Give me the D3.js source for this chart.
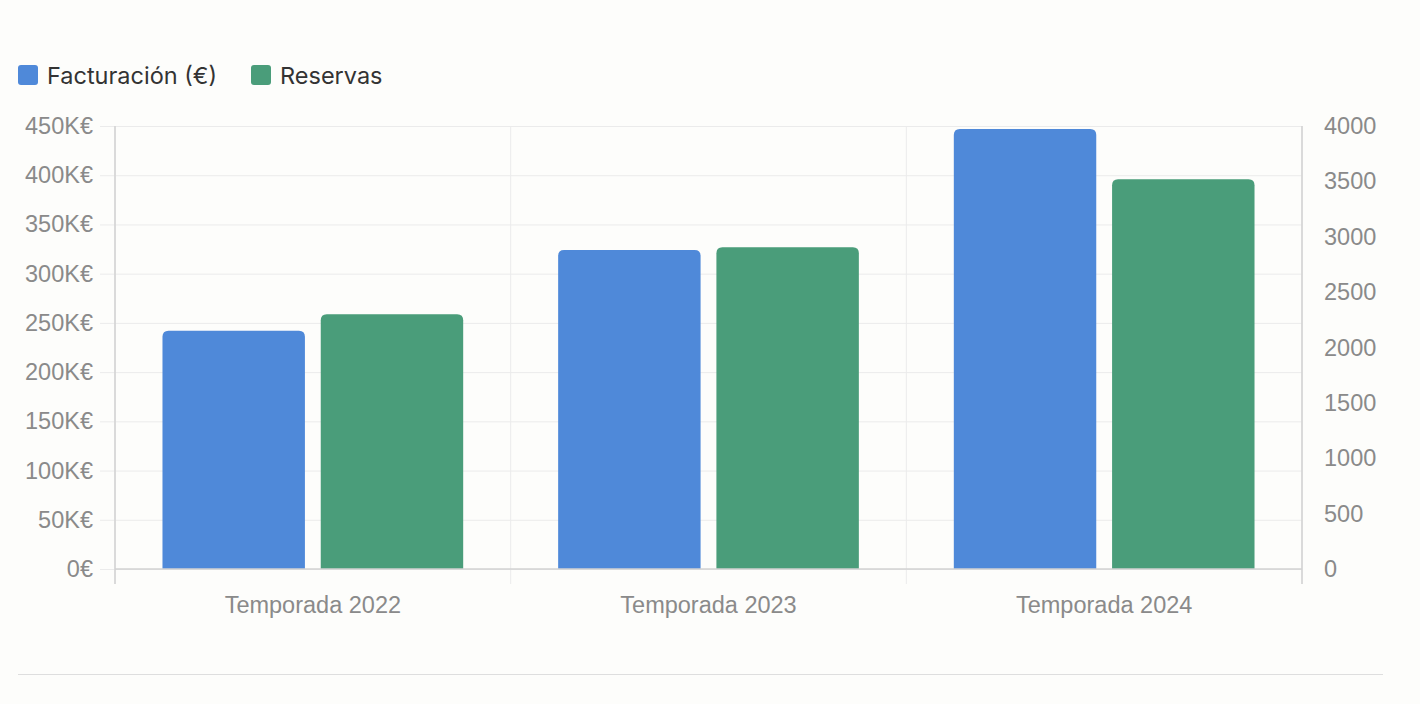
<!DOCTYPE html>
<html>
<head>
<meta charset="utf-8">
<script src="https://cdn.jsdelivr.net/npm/d3@7"></script>
<style>
  html, body { margin: 0; padding: 0; background: #fdfdfb; }
  svg { display: block; }
</style>
</head>
<body>
<div id="chart"></div>
<script>
// data
const seasons = ["Temporada 2022", "Temporada 2023", "Temporada 2024"];
const revenue = [242000, 324000, 447000];
const bookings = [2300, 2905, 3520];
const seriesNames = ["Facturación (€)", "Reservas"];
const seriesColors = ["#4f89d9", "#4a9d7a"];
const revenueTicks = [0, 50000, 100000, 150000, 200000, 250000, 300000, 350000, 400000, 450000];
const bookingTicks = [0, 500, 1000, 1500, 2000, 2500, 3000, 3500, 4000];

const width = 1420, height = 704;
const margin = { top: 126, right: 118, bottom: 135, left: 115 };
const innerW = width - margin.left - margin.right;
const innerH = height - margin.top - margin.bottom;

const svg = d3.select("#chart").append("svg")
  .attr("width", width).attr("height", height);

const tickFont = "'Liberation Sans', Arial, sans-serif";
const tickSize = "23.5px";
const tickColor = "#8a8a8a";
const gridColor = "#ebebeb";
const axisColor = "#d2d2d2";

const g = svg.append("g").attr("transform", `translate(${margin.left},${margin.top})`);

const x = d3.scaleBand().domain(seasons).range([0, innerW]);
const yLeft = d3.scaleLinear().domain([0, 450000]).range([innerH, 0]);
const yRight = d3.scaleLinear().domain([0, 4000]).range([innerH, 0]);

// horizontal grid + left ticks
const leftAxis = d3.axisLeft(yLeft).tickValues(revenueTicks)
  .tickSize(-innerW - 15).tickPadding(8)
  .tickFormat(d => d === 0 ? "0€" : (d / 1000) + "K€");
const gl = g.append("g").attr("transform", "translate(-15,0)").call(leftAxis);
gl.select(".domain").remove();
gl.selectAll(".tick line").attr("x1", 0).attr("x2", innerW + 15).attr("stroke", gridColor);
gl.selectAll(".tick text").attr("x", -7).attr("fill", tickColor)
  .style("font-family", tickFont).style("font-size", tickSize);

// vertical grid at category boundaries
const bounds = seasons.map(s => x(s)).concat([innerW]);
g.append("g").selectAll("line").data(bounds).join("line")
  .attr("x1", d => d).attr("x2", d => d)
  .attr("y1", 0).attr("y2", innerH + 15)
  .attr("stroke", gridColor);

// right axis labels
const rightAxis = d3.axisRight(yRight).tickValues(bookingTicks).tickSize(0).tickPadding(22)
  .tickFormat(d3.format("d"));
const gr = g.append("g").attr("transform", `translate(${innerW},0)`).call(rightAxis);
gr.select(".domain").remove();
gr.selectAll(".tick text").attr("fill", tickColor)
  .style("font-family", tickFont).style("font-size", tickSize);

// x labels
const bottomAxis = d3.axisBottom(x).tickSize(0).tickPadding(27);
const gb = g.append("g").attr("transform", `translate(0,${innerH})`).call(bottomAxis);
gb.select(".domain").remove();
gb.selectAll(".tick text").attr("fill", tickColor)
  .style("font-family", tickFont).style("font-size", tickSize);

// bars: 80% category width, 90% bar width
const catW = x.bandwidth() * 0.8;
const slotW = catW / 2;
const barW = slotW * 0.9;
const r = 6;
function barPath(x0, y0, w, h) {
  const rr = Math.min(r, h, w / 2);
  return `M${x0},${y0 + h}V${y0 + rr}Q${x0},${y0} ${x0 + rr},${y0}H${x0 + w - rr}Q${x0 + w},${y0} ${x0 + w},${y0 + rr}V${y0 + h}Z`;
}
const rows = seasons.map((s, i) => [
  { s, k: 0, y: yLeft(revenue[i]) },
  { s, k: 1, y: yRight(bookings[i]) }
]).flat();
g.append("g").selectAll("path").data(rows).join("path")
  .attr("d", d => {
    const x0 = x(d.s) + (x.bandwidth() - catW) / 2 + d.k * slotW + (slotW - barW) / 2;
    return barPath(x0, d.y, barW, innerH - d.y);
  })
  .attr("fill", d => seriesColors[d.k]);

// axis lines
g.append("line").attr("x1", 0).attr("x2", innerW).attr("y1", innerH).attr("y2", innerH)
  .attr("stroke", axisColor).attr("stroke-width", 1.5);
g.append("line").attr("x1", 0).attr("x2", 0).attr("y1", 0).attr("y2", innerH + 15)
  .attr("stroke", axisColor).attr("stroke-width", 1.5);
g.append("line").attr("x1", innerW).attr("x2", innerW).attr("y1", 0).attr("y2", innerH + 15)
  .attr("stroke", axisColor).attr("stroke-width", 1.5);

// legend
const legendFont = "Inter, 'Noto Sans', sans-serif";
const legend = svg.append("g").attr("transform", "translate(18,65)");
const legendX = [0, 233];
seriesNames.forEach((n, i) => {
  const lg = legend.append("g").attr("transform", `translate(${legendX[i]},0)`);
  lg.append("rect").attr("width", 20).attr("height", 20).attr("rx", 3).attr("fill", seriesColors[i]);
  lg.append("text").attr("x", 29).attr("y", 18.5).text(n)
    .attr("fill", "#333").style("font-family", legendFont).style("font-size", "23.5px");
});

// bottom separator
svg.append("line").attr("x1", 18).attr("x2", 1383).attr("y1", 674.5).attr("y2", 674.5)
  .attr("stroke", "#dedede");
</script>
</body>
</html>
